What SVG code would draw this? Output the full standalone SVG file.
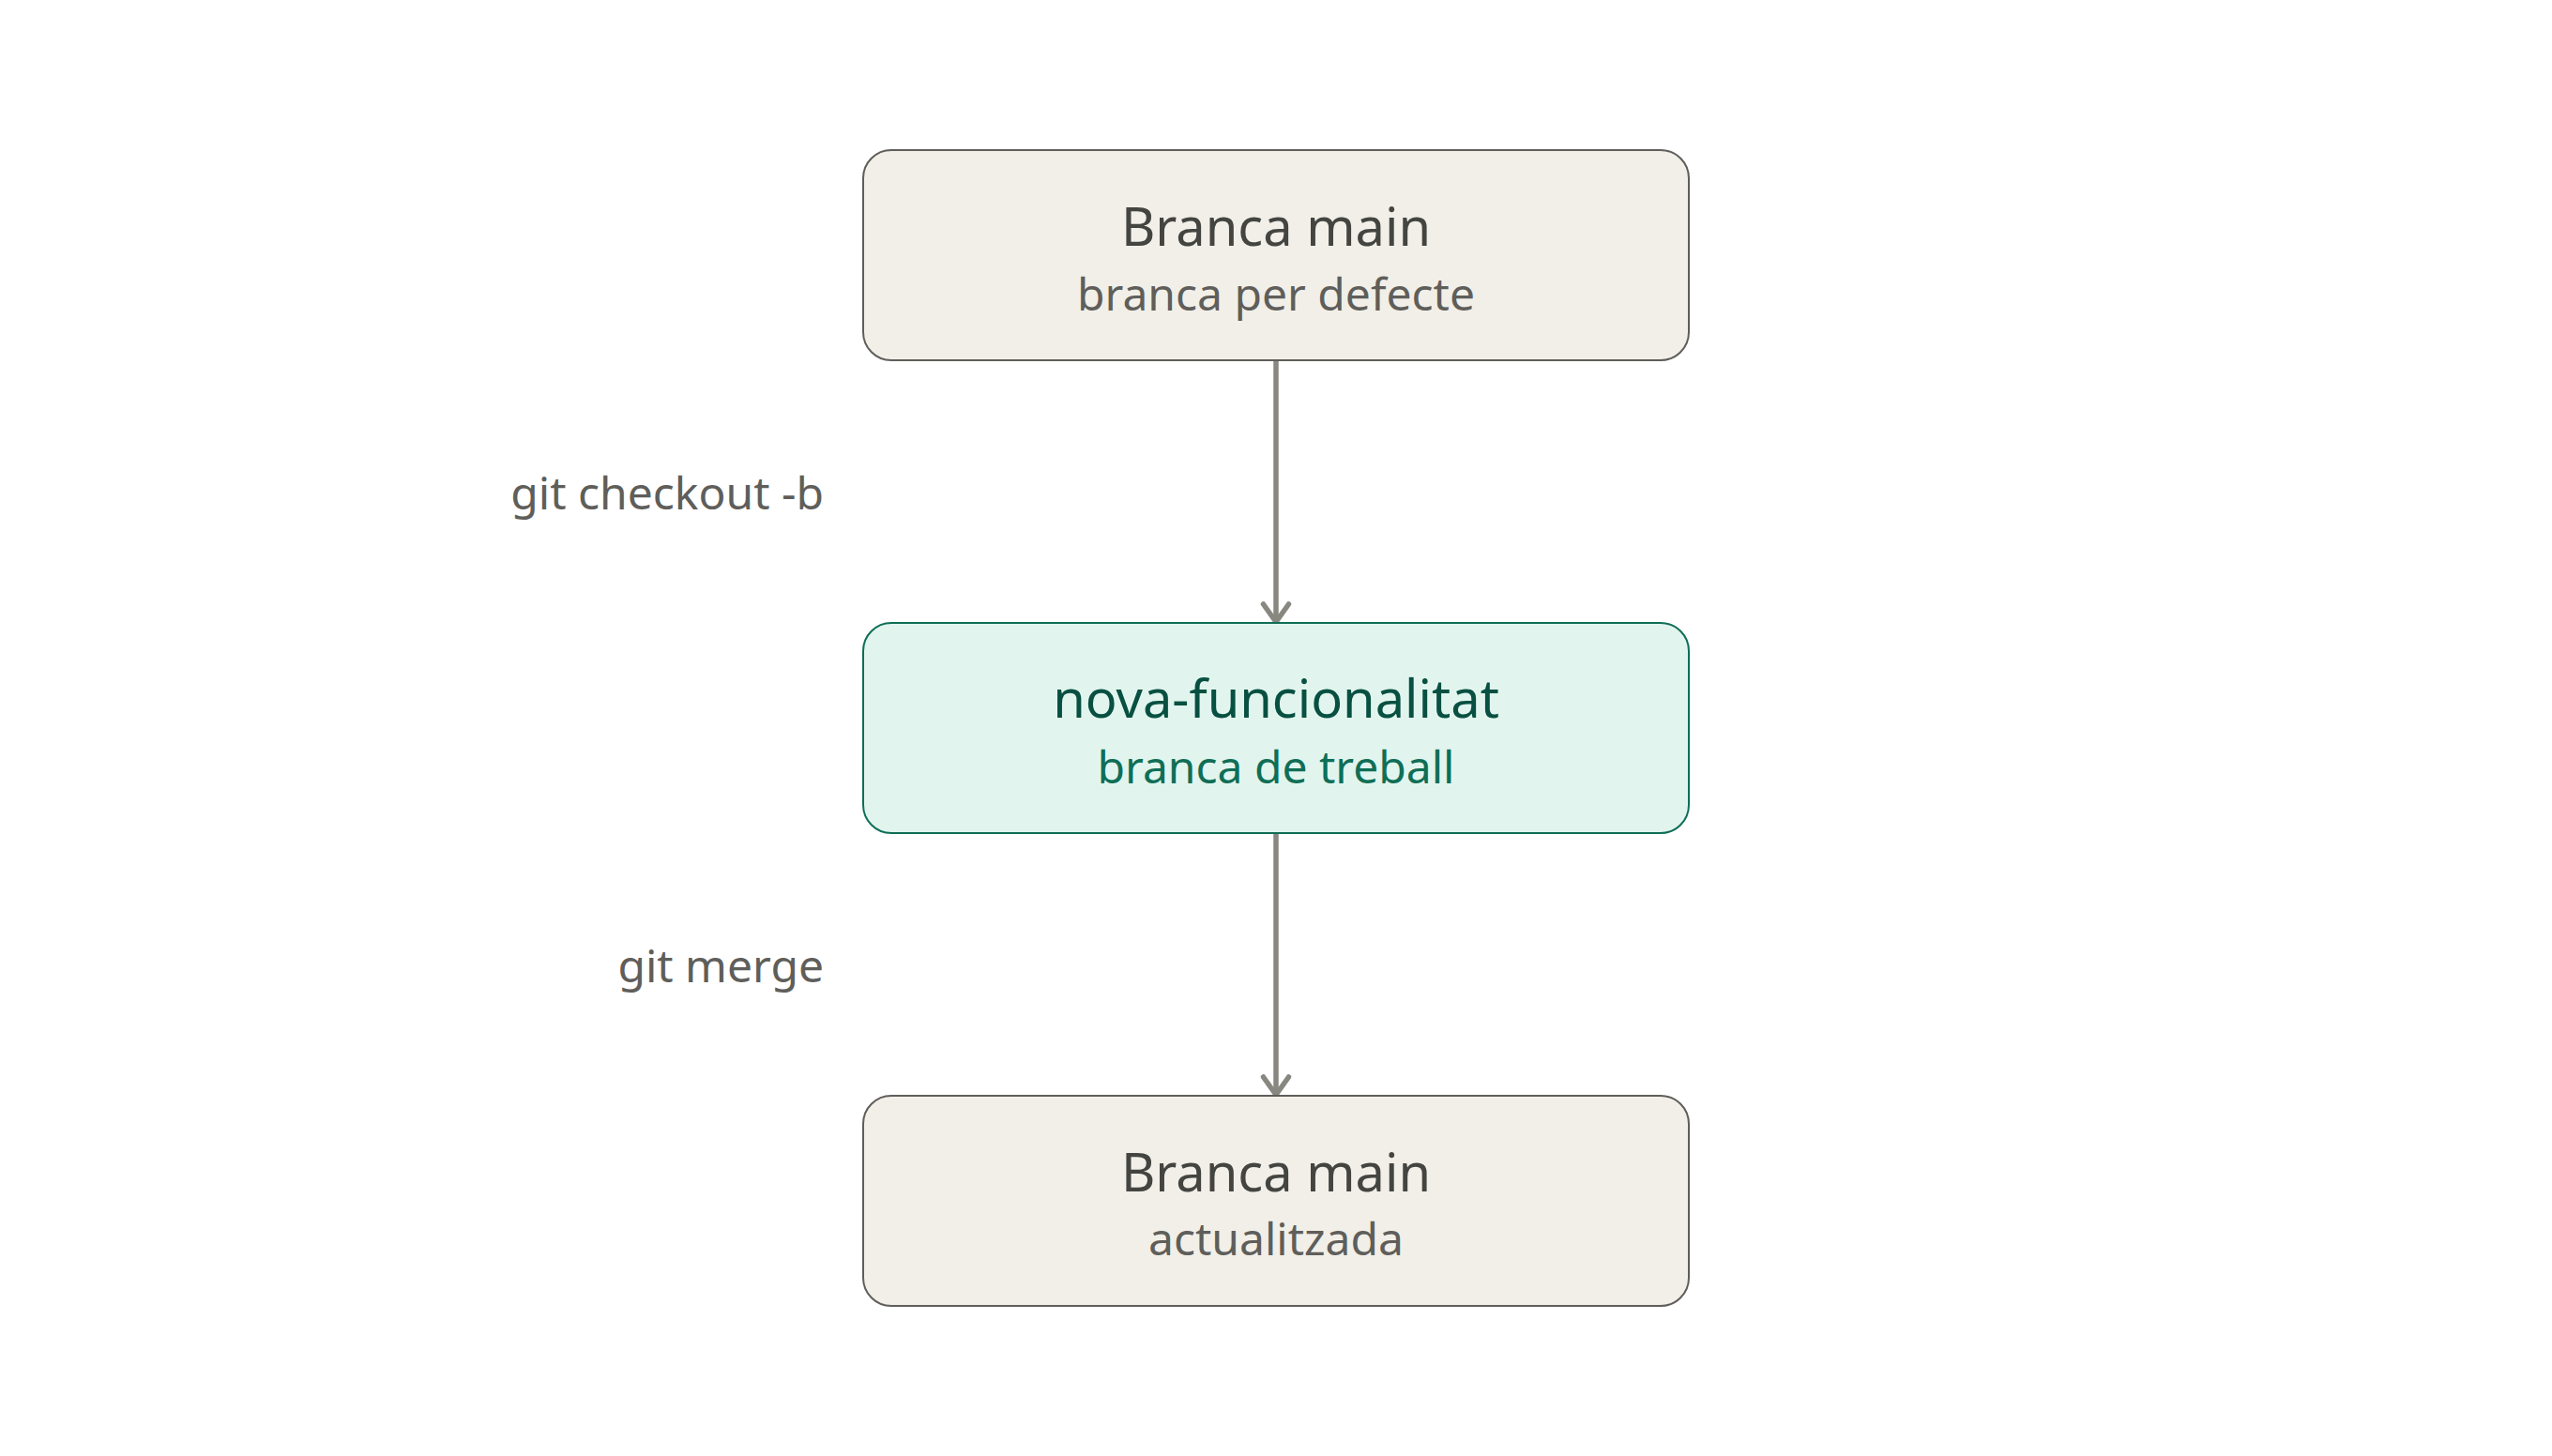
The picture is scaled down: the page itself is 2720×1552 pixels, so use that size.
<svg xmlns="http://www.w3.org/2000/svg" width="2720" height="1552" viewBox="0 0 2720 1552">
<style>
.box{fill:#F1EFE8;stroke:#5F5E5A;stroke-width:2}
.gbox{fill:#E1F5EE;stroke:#0F6E56;stroke-width:2}
.t{font-family:"Noto Sans","Open Sans",sans-serif;font-size:56px;fill:#444441;text-anchor:middle}
.s{font-family:"Noto Sans","Open Sans",sans-serif;font-size:48px;fill:#5F5E5A;text-anchor:middle}
.gt{fill:#085041}
.gs{fill:#0F6E56}
.lbl{font-family:"Noto Sans","Open Sans",sans-serif;font-size:48px;fill:#5F5E5A;text-anchor:end}
.edge{stroke:#888780;stroke-width:5.5;fill:none}
</style>
<defs>
<marker id="arr" viewBox="-4 -18 26 36" refX="19" refY="0" markerWidth="26" markerHeight="36" markerUnits="userSpaceOnUse" orient="auto">
<path d="M0 -13.5 L19 0 L0 13.5" fill="none" stroke="#888780" stroke-width="5.5" stroke-linecap="round" stroke-linejoin="round"/>
</marker>
</defs>
<rect width="2720" height="1552" fill="#FFFFFF"/>
<g id="connectors">
<line class="edge" x1="1360" y1="385" x2="1360" y2="663" marker-end="url(#arr)"/>
<line class="edge" x1="1360" y1="889" x2="1360" y2="1167" marker-end="url(#arr)"/>
<text class="lbl" x="878" y="543">git checkout -b</text>
<text class="lbl" x="878" y="1047">git merge</text>
</g>
<g id="node-main">
<rect class="box" x="920" y="160" width="880" height="224" rx="30"/>
<text class="t" x="1360" y="262">Branca main</text>
<text class="s" x="1360" y="331">branca per defecte</text>
</g>
<g id="node-feature">
<rect class="gbox" x="920" y="664" width="880" height="224" rx="30"/>
<text class="t gt" x="1360" y="765">nova-funcionalitat</text>
<text class="s gs" x="1360" y="835">branca de treball</text>
</g>
<g id="node-main-updated">
<rect class="box" x="920" y="1168" width="880" height="224" rx="30"/>
<text class="t" x="1360" y="1270">Branca main</text>
<text class="s" x="1360" y="1338">actualitzada</text>
</g>
</svg>
